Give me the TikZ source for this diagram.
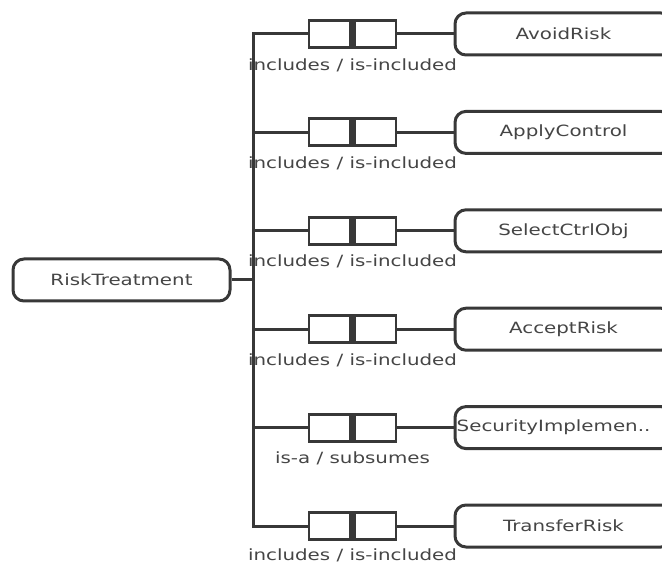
\documentclass[tikz,border=0pt]{standalone}
\usepackage{fontspec}
\newfontfamily\labfont[FakeStretch=1.28]{DejaVu Sans}
\definecolor{linec}{HTML}{383838}
\definecolor{textc}{HTML}{454545}
\begin{document}
\begin{tikzpicture}[x=1pt,y=-1pt,
  txt/.style={font=\labfont\fontsize{15.5}{18}\selectfont, text=textc},
  concept/.style={txt, draw=linec, line width=3pt, rounded corners=11pt,
    minimum width=217pt, minimum height=42pt, inner sep=0pt},
  relbox/.style={draw=linec, line width=2.8pt, fill=white,
    minimum width=87pt, minimum height=27pt, inner sep=0pt},
  link/.style={draw=linec, line width=3pt, line join=miter},
  rellabel/.style={txt, inner sep=0pt}]
\useasboundingbox (0,0) rectangle (662,564);
\clip (0,0) rectangle (662,564);

% root concept
\node[concept] (rt) at (121.5,280) {RiskTreatment};

% branch rows: relation box with its middle bar, trunk point
\foreach \i/\y in {1/34, 2/132.4, 3/230.8, 4/329.2, 5/427.6, 6/526} {
  \coordinate (t\i) at (253,\y);
  \node[relbox] (b\i) at (352.5,\y) {};
  \fill[linec] ([xshift=-3.5pt]b\i.north) rectangle ([xshift=3.5pt]b\i.south);
}
\coordinate (tm) at (253,280);

\node[concept] (avoid)    at (563.5,34)    {AvoidRisk};
\node[concept] (apply)    at (563.5,132.4) {ApplyControl};
\node[concept] (select)   at (563.5,230.8) {SelectCtrlObj};
\node[concept] (accept)   at (563.5,329.2) {AcceptRisk};
\node[concept] (secimpl)  at (563.5,427.6) {};
\node[txt, anchor=west, inner sep=0pt] (secimpltext) at ([xshift=3pt]secimpl.west) {SecurityImplemen..};
\node[concept] (transfer) at (563.5,526)   {TransferRisk};

% trunk and branches
\draw[link] (b1.west) -- (t1) -- (t6) -- (b6.west);
\draw[link] (rt.east) -- (tm);
\foreach \i in {2,3,4,5} { \draw[link] (t\i) -- (b\i.west); }
\draw[link] (b1.east) -- (avoid.west);
\draw[link] (b2.east) -- (apply.west);
\draw[link] (b3.east) -- (select.west);
\draw[link] (b4.east) -- (accept.west);
\draw[link] (b5.east) -- (secimpl.west);
\draw[link] (b6.east) -- (transfer.west);

% relation labels
\node[rellabel] (l1) at (352.5,65)    {includes / is-included};
\node[rellabel] (l2) at (352.5,163.4) {includes / is-included};
\node[rellabel] (l3) at (352.5,261.8) {includes / is-included};
\node[rellabel] (l4) at (352.5,360.2) {includes / is-included};
\node[rellabel] (l5) at (352.5,458.6) {is-a / subsumes};
\node[rellabel] (l6) at (352.5,555)   {includes / is-included};
\end{tikzpicture}
\end{document}
